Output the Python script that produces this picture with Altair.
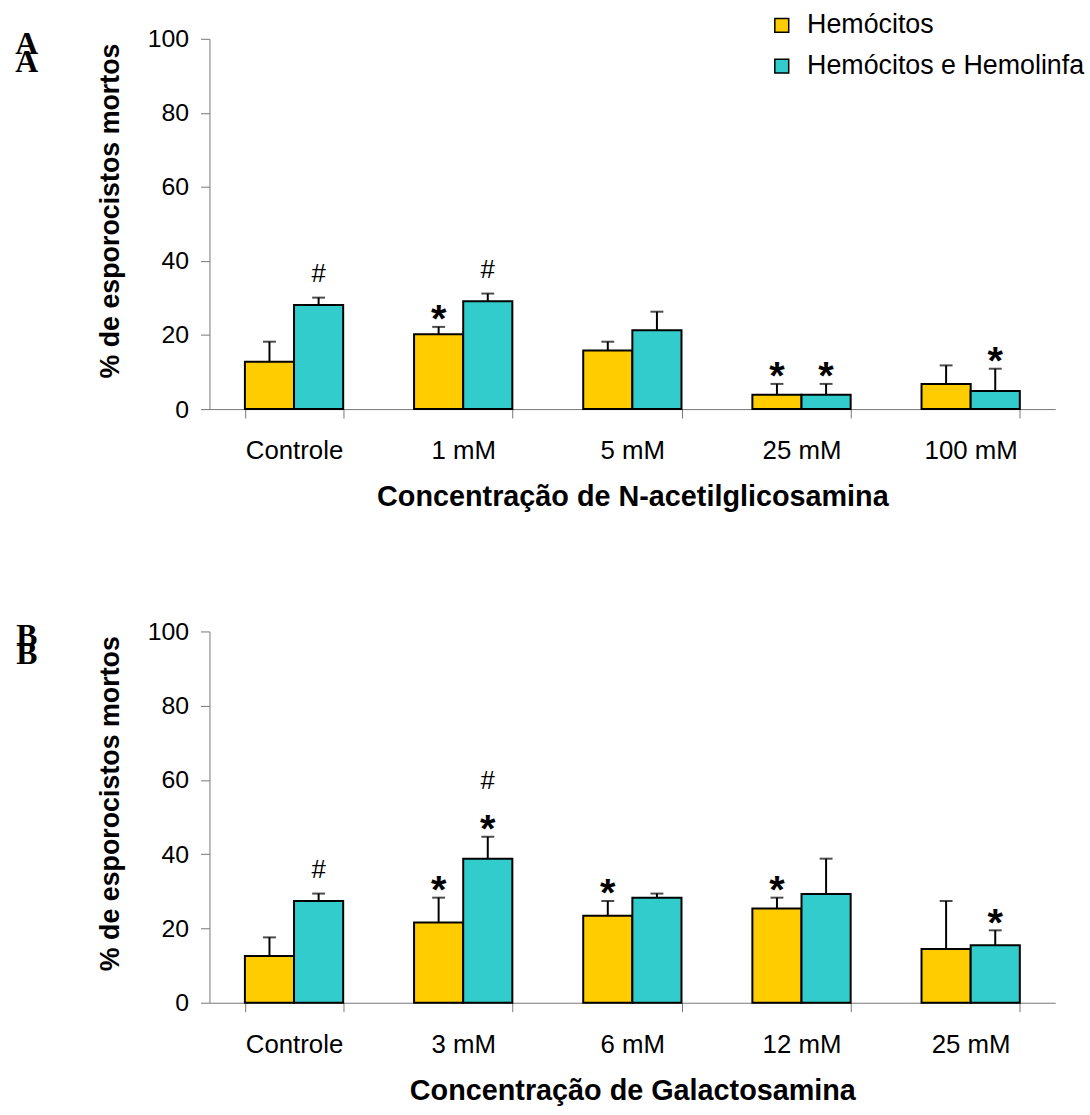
import altair as alt
import pandas as pd

SERIES = ["Hemócitos", "Hemócitos e Hemolinfa"]
COLORS = ["#FFCC00", "#33CCCC"]

# Painel A: N-acetilglicosamina
cat_a = ["Controle", "1 mM", "5 mM", "25 mM", "100 mM"]
hemo_a = [12.8, 20.2, 15.8, 3.9, 6.8]
hemo_err_a = [5.4, 2.0, 2.4, 2.9, 5.0]
linfa_a = [28.1, 29.1, 21.3, 3.9, 4.9]
linfa_err_a = [2.0, 2.1, 5.0, 2.9, 6.0]
notes_a = [
    ("Controle", "Hemócitos e Hemolinfa", "#"),
    ("1 mM", "Hemócitos", "*"),
    ("1 mM", "Hemócitos e Hemolinfa", "#"),
    ("25 mM", "Hemócitos", "*"),
    ("25 mM", "Hemócitos e Hemolinfa", "*"),
    ("100 mM", "Hemócitos e Hemolinfa", "*"),
]

# Painel B: Galactosamina
cat_b = ["Controle", "3 mM", "6 mM", "12 mM", "25 mM"]
hemo_b = [12.6, 21.6, 23.4, 25.4, 14.5]
hemo_err_b = [5.0, 6.7, 4.0, 2.9, 12.9]
linfa_b = [27.4, 38.8, 28.3, 29.3, 15.5]
linfa_err_b = [2.0, 5.9, 1.1, 9.5, 4.0]
notes_b = [
    ("Controle", "Hemócitos e Hemolinfa", "#"),
    ("3 mM", "Hemócitos", "*"),
    ("3 mM", "Hemócitos e Hemolinfa", "*"),
    ("3 mM", "Hemócitos e Hemolinfa", "#"),
    ("6 mM", "Hemócitos", "*"),
    ("12 mM", "Hemócitos", "*"),
    ("25 mM", "Hemócitos e Hemolinfa", "*"),
]

FONT = "Liberation Sans"
AXIS_GREY = "#777777"
GAP = {"*": 4.7, "#": 6.5}   # distance above error cap, in % units
STACK = 8.8                  # extra lift for a second symbol on the same bar
W = 852


def panel(cats, hemo, hemo_err, linfa, linfa_err, notes, letter, xtitle,
          legend, height):
    rows = []
    for i, c in enumerate(cats):
        rows.append(dict(conc=c, serie=SERIES[0], valor=hemo[i], topo=hemo[i] + hemo_err[i]))
        rows.append(dict(conc=c, serie=SERIES[1], valor=linfa[i], topo=linfa[i] + linfa_err[i]))
    df = pd.DataFrame(rows)

    note_rows = []
    level = {}
    for conc, serie, sym in notes:
        top = float(df[(df.conc == conc) & (df.serie == serie)].topo.iloc[0])
        n = level.get((conc, serie), 0)
        level[(conc, serie)] = n + 1
        note_rows.append(dict(conc=conc, serie=serie, simbolo=sym,
                              pos=top + GAP[sym] + STACK * n))
    nd = pd.DataFrame(note_rows)

    x = alt.X(
        "conc:N", sort=cats, title=xtitle,
        scale=alt.Scale(paddingInner=0.419, paddingOuter=0.2095),
        axis=alt.Axis(
            labelAngle=0, tickBand="extent", tickSize=9, tickColor=AXIS_GREY,
            domainColor=AXIS_GREY, labelFont=FONT, labelFontSize=26,
            labelColor="black", labelPadding=20, titleFont=FONT,
            titleFontSize=29, titleFontWeight="bold", titleColor="black",
            titlePadding=19,
        ),
    )
    xoff = alt.XOffset("serie:N", sort=SERIES,
                       scale=alt.Scale(paddingInner=0, paddingOuter=0))
    y = alt.Y(
        "valor:Q", title="% de esporocistos mortos",
        scale=alt.Scale(domain=[0, 100], nice=False),
        axis=alt.Axis(
            values=[0, 20, 40, 60, 80, 100], grid=False, tickSize=9,
            tickColor=AXIS_GREY, domainColor=AXIS_GREY, labelFont=FONT,
            labelFontSize=25, labelColor="black", labelPadding=12,
            titleFont=FONT, titleFontSize=27, titleFontWeight="bold",
            titleColor="black", titlePadding=23, titleY=173,
        ),
    )
    if legend:
        leg = alt.Legend(
            title=None, orient="none", legendX=563, legendY=-27,
            symbolType="square", symbolSize=196, symbolStrokeColor="black",
            symbolStrokeWidth=1.5, symbolOpacity=1, labelFont=FONT,
            labelFontSize=27, labelColor="black", labelLimit=0, rowPadding=13,
            labelOffset=12, padding=0,
        )
    else:
        leg = None
    color = alt.Color("serie:N", sort=SERIES,
                      scale=alt.Scale(domain=SERIES, range=COLORS), legend=leg)

    erro = alt.Chart(df).mark_rule(color="black", strokeWidth=2).encode(
        x=x, xOffset=xoff, y="valor:Q", y2="topo:Q")
    cap = alt.Chart(df).mark_tick(color="black", thickness=2, size=13).encode(
        x=x, xOffset=xoff, y="topo:Q")
    bars = alt.Chart(df).mark_bar(stroke="black", strokeWidth=2).encode(
        x=x, xOffset=xoff, y=y, color=color)

    star = alt.Chart(nd).transform_filter(alt.datum.simbolo == "*").mark_text(
        font=FONT, fontWeight="bold", fontSize=40, baseline="middle", dy=11,
        color="black").encode(x=x, xOffset=xoff, y="pos:Q", text="simbolo:N")
    hash_ = alt.Chart(nd).transform_filter(alt.datum.simbolo == "#").mark_text(
        font=FONT, fontSize=26, baseline="middle", dy=1,
        color="black").encode(x=x, xOffset=xoff, y="pos:Q", text="simbolo:N")

    lt = pd.DataFrame({"letra": [letter]})
    letra1 = alt.Chart(lt).mark_text(
        font="Liberation Serif", fontWeight="bold", fontSize=32,
        baseline="middle", align="center", color="black").encode(
        x=alt.value(-184), y=alt.value(5), text="letra:N")
    letra2 = alt.Chart(lt).mark_text(
        font="Liberation Serif", fontWeight="bold", fontSize=32,
        baseline="middle", align="center", color="black").encode(
        x=alt.value(-184), y=alt.value(23), text="letra:N")

    return alt.layer(erro, cap, bars, star, hash_, letra1, letra2).properties(
        width=W, height=height)


top = panel(cat_a, hemo_a, hemo_err_a, linfa_a, linfa_err_a, notes_a, "A",
            "Concentração de N-acetilglicosamina", True, 373)
bottom = panel(cat_b, hemo_b, hemo_err_b, linfa_b, linfa_err_b, notes_b, "B",
               "Concentração de Galactosamina", False, 374)

chart = alt.vconcat(top, bottom, spacing=224, bounds="flush").resolve_scale(
    color="independent"
).properties(
    padding={"left": 15, "top": 8, "right": 5, "bottom": 5},
    background="white",
).configure_view(stroke=None)

chart.save("out.html", embed_options={"renderer": "svg", "actions": False})
